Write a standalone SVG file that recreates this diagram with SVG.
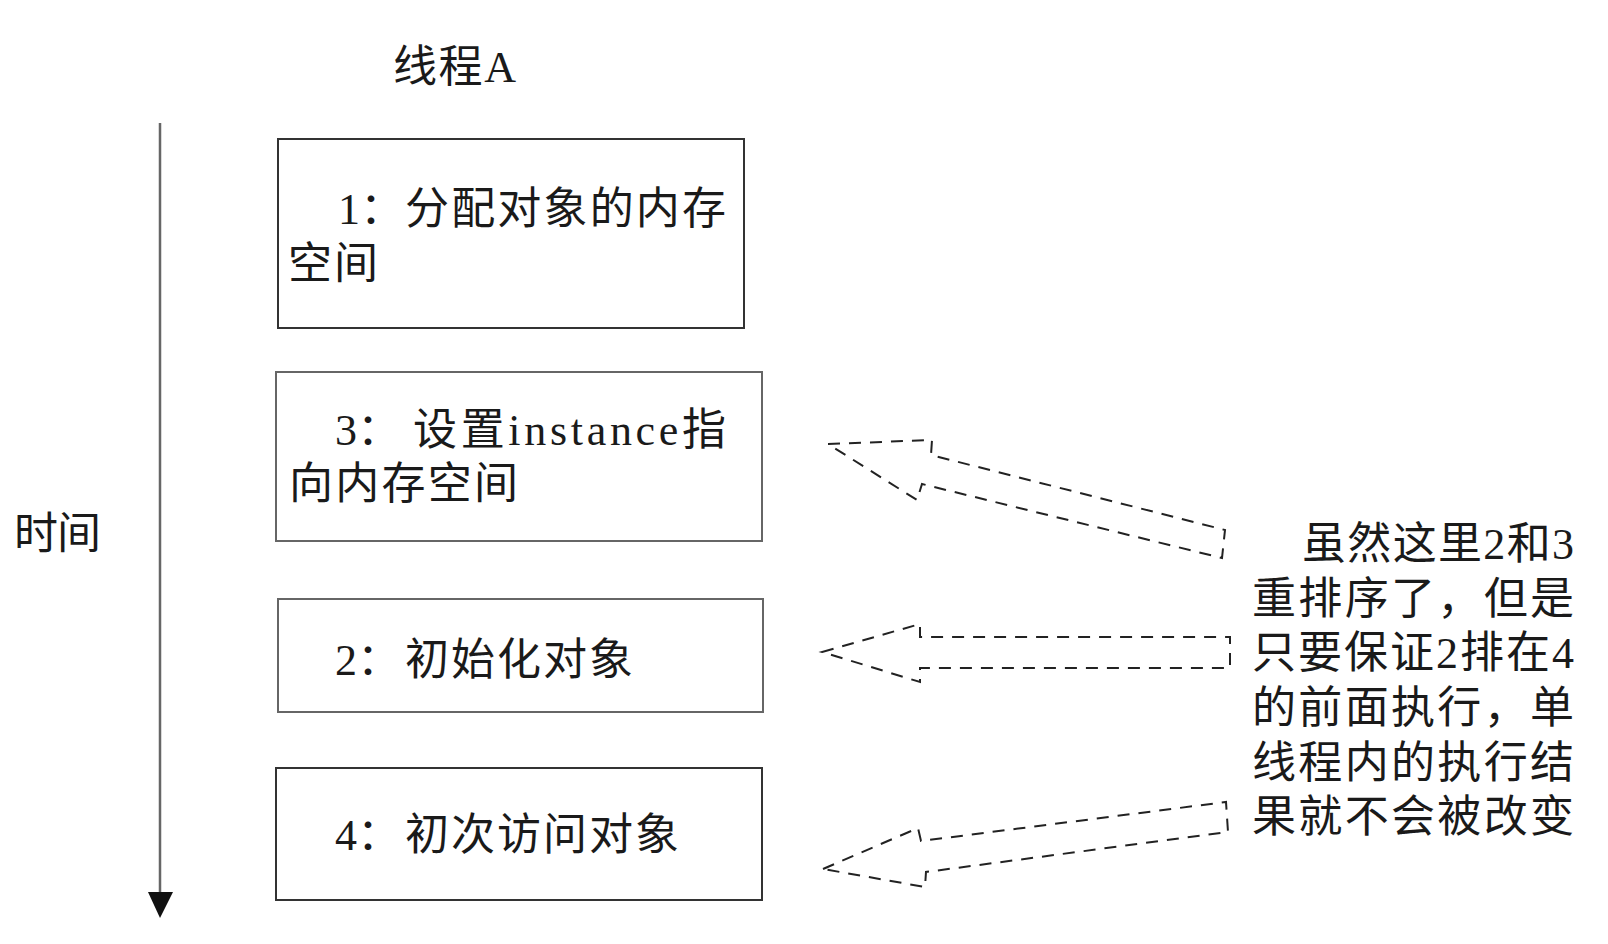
<svg xmlns="http://www.w3.org/2000/svg" width="1608" height="944" viewBox="0 0 1608 944">
<style>
  .t { font-family: "Liberation Serif", "Noto Sans CJK SC", serif; font-size: 44px; fill: #1a1a1a; }
  .box { fill: #ffffff; stroke: #333333; stroke-width: 2; }
  .box2 { fill: #ffffff; stroke: #666666; stroke-width: 2; }
  .blk { fill: none; stroke: #222222; stroke-width: 2; stroke-dasharray: 12 9; stroke-linejoin: miter; }
</style>
<rect width="1608" height="944" fill="#ffffff"/>

<g id="title">
  <text class="t" x="393" y="82" font-size="42" textLength="123">线程A</text>
</g>

<g id="time-axis">
  <line x1="160" y1="123" x2="160" y2="893" stroke="#666666" stroke-width="2.5"/>
  <polygon points="148,892 173,892 160,918" fill="#111111"/>
  <text class="t" x="14" y="549" textLength="87">时间</text>
</g>

<g id="node-1">
  <rect class="box" x="278" y="139" width="466" height="189"/>
  <text class="t" x="338" y="224">1：</text>
  <text class="t" x="405" y="224" textLength="321">分配对象的内存</text>
  <text class="t" x="288" y="279" textLength="90">空间</text>
</g>

<g id="node-3">
  <rect class="box2" x="276" y="372" width="486" height="169"/>
  <text class="t" x="335" y="445">3：</text>
  <text class="t" x="413" y="445" textLength="313">设置instance指</text>
  <text class="t" x="289" y="499" textLength="229">向内存空间</text>
</g>

<g id="node-2">
  <rect class="box2" x="278" y="599" width="485" height="113"/>
  <text class="t" x="335" y="675">2：</text>
  <text class="t" x="405" y="675" textLength="228">初始化对象</text>
</g>

<g id="node-4">
  <rect class="box" x="276" y="768" width="486" height="132"/>
  <text class="t" x="335" y="850">4：</text>
  <text class="t" x="405" y="850" textLength="274">初次访问对象</text>
</g>

<g id="note">
  <text class="t" x="1302" y="559" textLength="272">虽然这里2和3</text>
  <text class="t" x="1252" y="614" textLength="322">重排序了，但是</text>
  <text class="t" x="1252" y="668" textLength="322">只要保证2排在4</text>
  <text class="t" x="1252" y="723" textLength="322">的前面执行，单</text>
  <text class="t" x="1252" y="778" textLength="322">线程内的执行结</text>
  <text class="t" x="1252" y="832" textLength="322">果就不会被改变</text>
</g>

<g id="connectors">
  <polygon class="blk" points="828,444 932,440 931,455 1225,530 1222,558 922,484 917,500"/>
  <polygon class="blk" points="822,652 920,624 920,637 1230,637 1230,668 920,668 920,682"/>
  <polygon class="blk" points="823,869 918,828 921,841 1226,802 1228,832 926,872 925,887"/>
</g>
</svg>
